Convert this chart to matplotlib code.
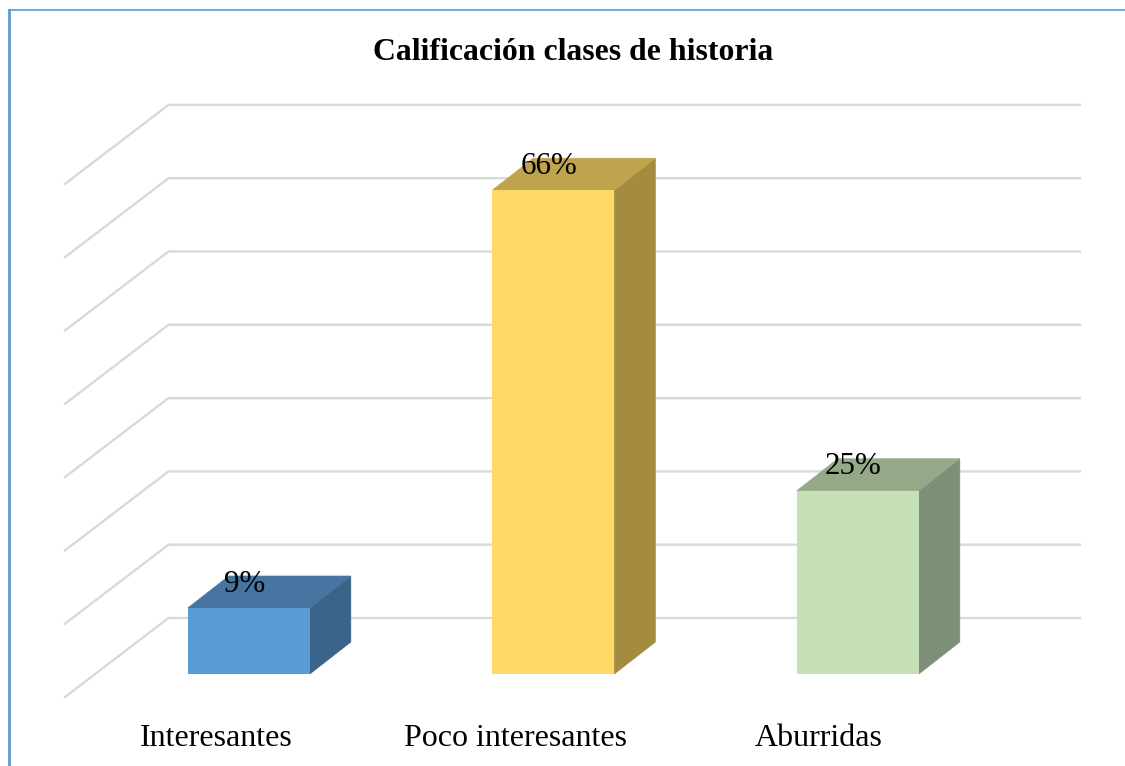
import matplotlib
matplotlib.use("Agg")
import matplotlib.pyplot as plt
from matplotlib.patches import Polygon

categorias = ["Interesantes", "Poco interesantes", "Aburridas"]
valores = [9, 66, 25]
etiquetas = ["9%", "66%", "25%"]
ticks_y = [0, 10, 20, 30, 40, 50, 60, 70]

col_frente = ["#5B9BD5", "#FFD966", "#C5E0B4"]
col_techo = ["#4675A1", "#BFA34D", "#95A888"]
col_lado = ["#3A6489", "#A38B40", "#7E8F78"]

W, H = 1125, 766
px_x = 304.5   # pixeles por categoria
px_y = 7.33    # pixeles por punto porcentual
x0_px, y0_px = 248.8, 674
ancho = 122 / px_x
prof_x = 41 / px_x
prof_y = 32 / px_y

plt.rcParams["font.family"] = ["Liberation Serif", "DejaVu Serif"]

fig = plt.figure(figsize=(W / 100, H / 100), dpi=100)
ax = fig.add_axes([0, 0, 1, 1])
ax.set_xlim(-x0_px / px_x, (W - x0_px) / px_x)
ax.set_ylim(-(H - y0_px) / px_y, y0_px / px_y)
ax.axis("off")

# rejilla: pared del fondo y pared lateral
fondo_izq = (168.5 - x0_px) / px_x
fondo_der = (1080 - x0_px) / px_x
frente_izq = (65 - x0_px) / px_x
base_fondo = (y0_px - 618) / px_y
caida = 79 / px_y
for t in ticks_y:
    yy = base_fondo + t
    ax.plot([frente_izq, fondo_izq, fondo_der], [yy - caida, yy, yy],
            color="#D9D9D9", lw=1.7, solid_joinstyle="miter", zorder=1)

# barras con falsa perspectiva
for i, v in enumerate(valores):
    a = i - ancho / 2
    b = i + ancho / 2
    ax.add_patch(Polygon([(b, 0), (b + prof_x, prof_y), (b + prof_x, v + prof_y), (b, v)],
                         fc=col_lado[i], ec=col_lado[i], lw=0.5, zorder=2))
    ax.add_patch(Polygon([(a, v), (b, v), (b + prof_x, v + prof_y), (a + prof_x, v + prof_y)],
                         fc=col_techo[i], ec=col_techo[i], lw=0.5, zorder=2))
    ax.bar(i, v, width=ancho, color=col_frente[i], zorder=3)
    ax.text(i - 4.5 / px_x, v + prof_y - 8 / px_y, etiquetas[i], ha="center", va="center",
            fontsize=22.3, color="#000000", zorder=4)

y_cat = -(738 - y0_px) / px_y
ax.text(-32.5 / px_x, y_cat, categorias[0], ha="center", va="center", fontsize=23)
ax.text(1 - 38 / px_x, y_cat, categorias[1], ha="center", va="center", fontsize=23)
ax.text(2 - 39 / px_x, y_cat, categorias[2], ha="center", va="center", fontsize=23)

fig.text(573 / W, 1 - 53 / H, "Calificación clases de historia", ha="center", va="center",
         fontsize=22.9, fontweight="bold")

# marco azul del recuadro
fig.add_artist(plt.Line2D([9 / W, 1], [1 - 10 / H, 1 - 10 / H], color="#5B9BD5", lw=1.2))
fig.add_artist(plt.Line2D([9 / W, 9 / W], [0, 1 - 9.5 / H], color="#5B9BD5", lw=2.0))

fig.savefig("out.png", dpi=100, facecolor="white")
